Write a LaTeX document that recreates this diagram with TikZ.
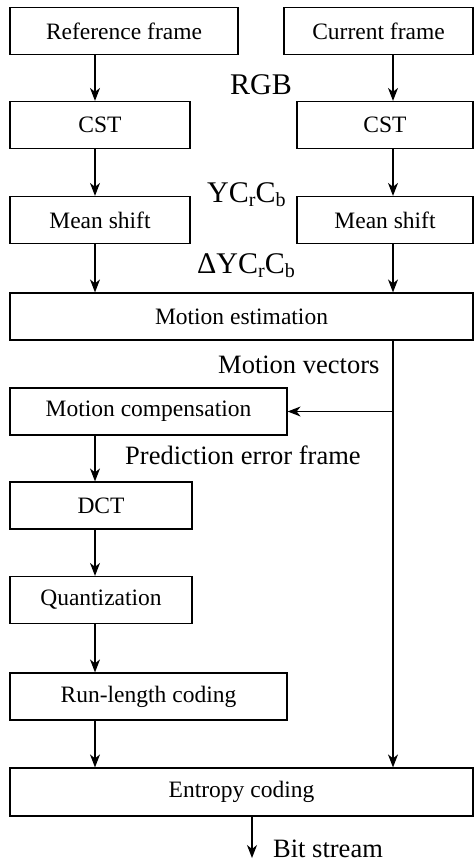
\documentclass[tikz,border=0pt]{standalone}
\usepackage{fontspec}
\setmainfont{Liberation Serif}
\usepackage{tikz}
\usetikzlibrary{arrows.meta}
\newcommand{\lowsub}[1]{\raisebox{-0.3ex}{\fontsize{20}{20}\selectfont #1}}

\begin{document}
\begin{tikzpicture}[x=1pt, y=-1pt, >={Stealth[length=13pt, width=10pt, inset=4pt]},
		box/.style={draw, line width=1.2pt, inner sep=0pt, minimum height=47pt, font=\fontsize{23.5}{28}\selectfont},
		lbl/.style={anchor=base west, inner sep=0pt, font=\fontsize{26.5}{32}\selectfont},
		sig/.style={anchor=base west, inner sep=0pt, font=\fontsize{30}{36}\selectfont},
		flow/.style={->, line width=1.2pt}]
			\useasboundingbox (0,0) rectangle (474,864);
			\coordinate (colL) at (95,0);
			\coordinate (colR) at (393,0);
			% two input columns
			\node[box, minimum width=228pt] (ref) at (124,31) {Reference frame};
			\node[box, minimum width=189pt] (cur) at (378.5,31) {Current frame};
			\node[box, minimum width=180pt] (cstL) at (100,125) {CST};
			\node[box, minimum width=176pt] (cstR) at (385,125) {CST};
			\node[box, minimum width=180pt] (msL) at (100,220) {Mean shift};
			\node[box, minimum width=176pt] (msR) at (385,220) {Mean shift};
			% main chain
			\node[box, minimum width=463pt] (me) at (241.5,316.5) {Motion estimation};
			\node[box, minimum width=277pt] (mc) at (148.5,411.5) {Motion compensation};
			\node[box, minimum width=182pt] (dct) at (101,505.5) {DCT};
			\node[box, minimum width=182pt] (quant) at (101,600) {Quantization};
			\node[box, minimum width=277pt] (rlc) at (148.5,696.5) {Run-length coding};
			\node[box, minimum width=463pt, minimum height=48pt] (ec) at (241.5,792) {Entropy coding};
			% labels
			\node[sig] (rgb) at (230,95) {RGB};
			\node[sig] (ycc) at (207,202) {YC\lowsub{r}C\lowsub{b}};
			\node[sig] (dycc) at (197,273) {ΔYC\lowsub{r}C\lowsub{b}};
			\node[lbl] (mv) at (218,373) {Motion vectors};
			\node[lbl] (pef) at (125,464) {Prediction error frame};
			\node[lbl] (bits) at (273,857) {Bit stream};
			\coordinate (out) at (252,858);
			% connectors
			\draw[flow] (ref.south -| colL) -- (cstL.north -| colL);
			\draw[flow] (cstL.south -| colL) -- (msL.north -| colL);
			\draw[flow] (msL.south -| colL) -- (me.north -| colL);
			\draw[flow] (cur.south -| colR) -- (cstR.north -| colR);
			\draw[flow] (cstR.south -| colR) -- (msR.north -| colR);
			\draw[flow] (msR.south -| colR) -- (me.north -| colR);
			\draw[flow] (me.south -| colR) -- (ec.north -| colR);
			\draw[flow] (mc.east -| colR) -- (mc.east);
			\draw[flow] (mc.south -| colL) -- (dct.north -| colL);
			\draw[flow] (dct.south -| colL) -- (quant.north -| colL);
			\draw[flow] (quant.south -| colL) -- (rlc.north -| colL);
			\draw[flow] (rlc.south -| colL) -- (ec.north -| colL);
			\draw[flow] (ec.south -| out) -- (out);
		\end{tikzpicture}
\end{document}
